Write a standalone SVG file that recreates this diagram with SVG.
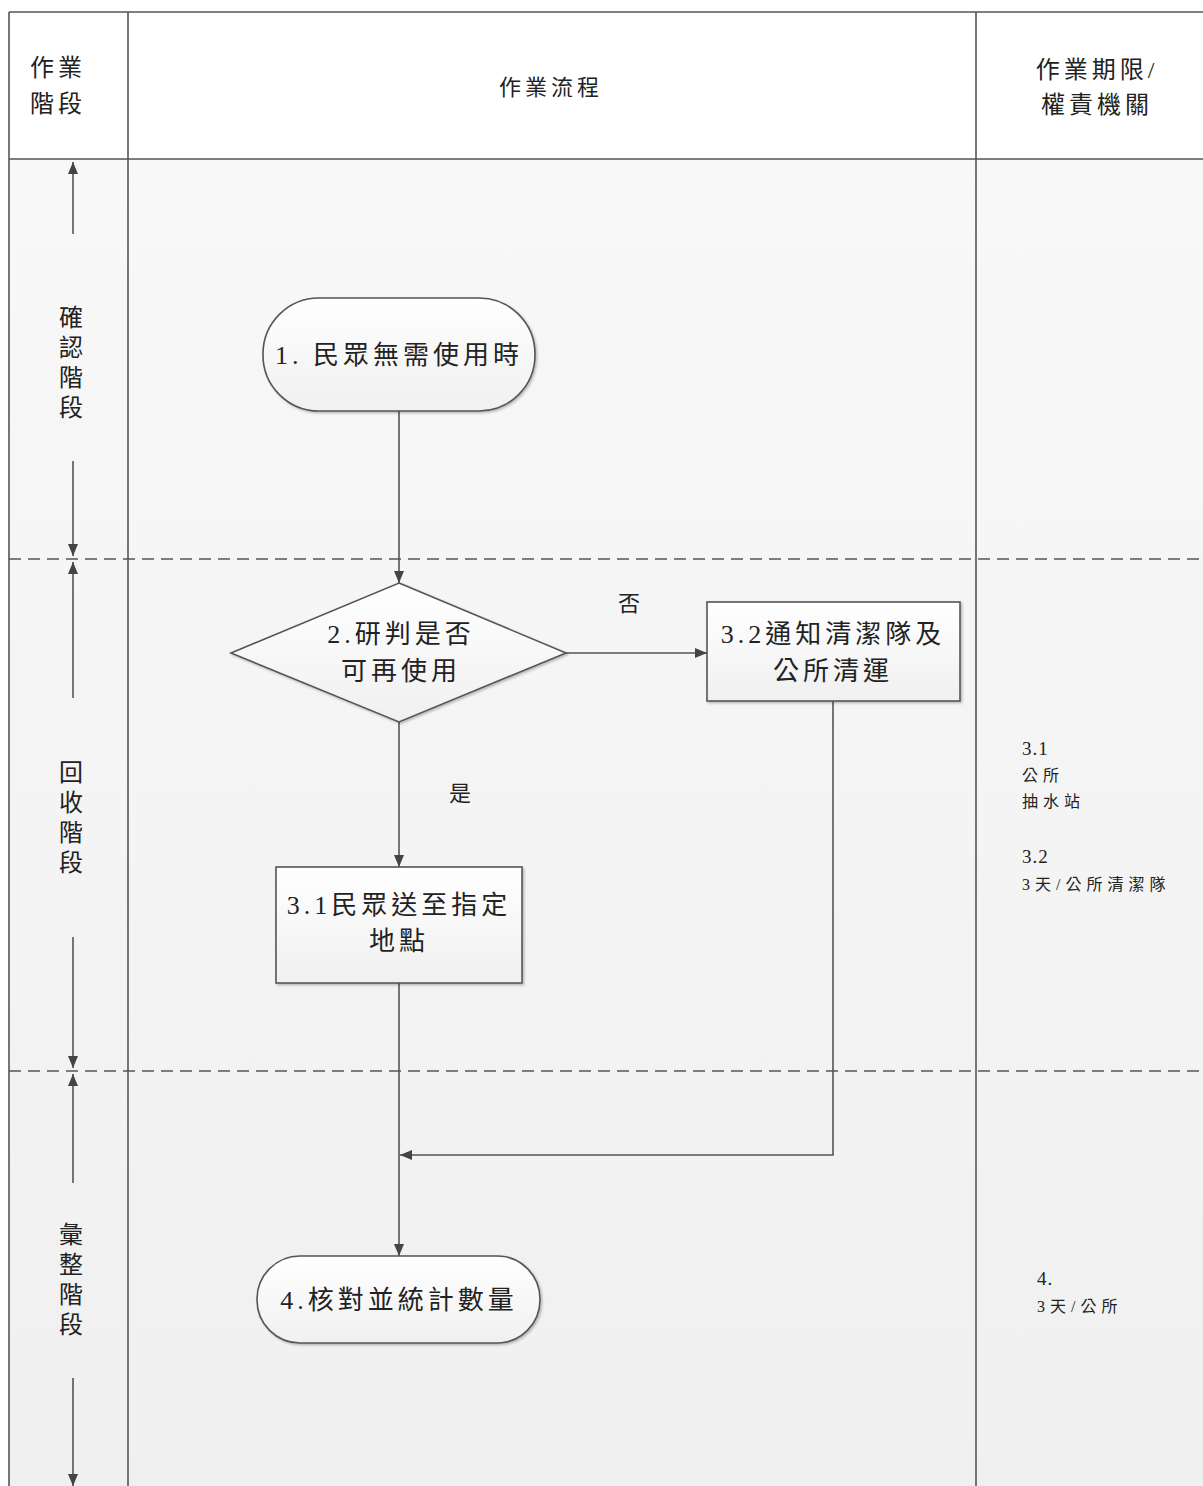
<svg xmlns="http://www.w3.org/2000/svg" width="1203" height="1486" viewBox="0 0 1203 1486">
<style>
.frame{stroke:#555;stroke-width:1.6;fill:none}
.dash{stroke:#555;stroke-width:1.6;stroke-dasharray:12 7;fill:none}
.conn{stroke:#555;stroke-width:1.6;fill:none}
.node{fill:url(#ng);stroke:#555;stroke-width:1.6}
.t{font-family:"Liberation Serif","Noto Sans CJK TC",serif;fill:#222}
.h{font-size:24px;letter-spacing:4px}
.n{font-size:26px;letter-spacing:4px;text-anchor:middle}
.s{font-size:19px;letter-spacing:1px}
.c{font-size:16px;letter-spacing:5px}
</style>
<defs>
<linearGradient id="bg" x1="0" y1="0" x2="0" y2="1">
<stop offset="0" stop-color="#f8f8f8"/><stop offset="1" stop-color="#f0f0f0"/>
</linearGradient>
<linearGradient id="ng" x1="0" y1="0" x2="0" y2="1">
<stop offset="0" stop-color="#ffffff"/><stop offset="1" stop-color="#f0f0f0"/>
</linearGradient>
<marker id="ah" viewBox="0 0 12 10" refX="12" refY="5" markerWidth="12" markerHeight="10" markerUnits="userSpaceOnUse" orient="auto">
<path d="M0,0 L12,5 L0,10 Z" fill="#444"/>
</marker>
<filter id="sh" x="-10%" y="-10%" width="130%" height="130%">
<feDropShadow dx="1.5" dy="1.5" stdDeviation="1.2" flood-color="#000" flood-opacity="0.25"/>
</filter>
</defs>
<rect x="0" y="0" width="1203" height="1486" fill="#ffffff"/>
<rect x="9" y="159" width="1194" height="1327" fill="url(#bg)"/>
<g id="frame">
<line class="frame" x1="9" y1="12" x2="1203" y2="12"/>
<line class="frame" x1="9" y1="12" x2="9" y2="1486"/>
<line class="frame" x1="128" y1="12" x2="128" y2="1486"/>
<line class="frame" x1="976" y1="12" x2="976" y2="1486"/>
<line class="frame" x1="9" y1="159" x2="1203" y2="159"/>
<line class="dash" x1="9" y1="559" x2="1203" y2="559"/>
<line class="dash" x1="9" y1="1071" x2="1203" y2="1071"/>
</g>
<g id="headers">
<text class="t h" x="58" y="76" text-anchor="middle">作業</text>
<text class="t h" x="58" y="112" text-anchor="middle">階段</text>
<text class="t" x="551" y="95" font-size="22" letter-spacing="4" text-anchor="middle">作業流程</text>
<text class="t h" x="1097" y="78" text-anchor="middle">作業期限/</text>
<text class="t h" x="1097" y="113" text-anchor="middle">權責機關</text>
</g>
<g id="stages">
<line class="conn" x1="73" y1="234" x2="73" y2="162" marker-end="url(#ah)"/>
<line class="conn" x1="73" y1="461" x2="73" y2="556" marker-end="url(#ah)"/>
<text class="t" x="71" font-size="24" text-anchor="middle"><tspan x="71" y="326">確</tspan><tspan x="71" y="356">認</tspan><tspan x="71" y="386">階</tspan><tspan x="71" y="416">段</tspan></text>
<line class="conn" x1="73" y1="698" x2="73" y2="562" marker-end="url(#ah)"/>
<line class="conn" x1="73" y1="937" x2="73" y2="1068" marker-end="url(#ah)"/>
<text class="t" x="71" font-size="24" text-anchor="middle"><tspan x="71" y="781">回</tspan><tspan x="71" y="811">收</tspan><tspan x="71" y="841">階</tspan><tspan x="71" y="871">段</tspan></text>
<line class="conn" x1="73" y1="1183" x2="73" y2="1074" marker-end="url(#ah)"/>
<line class="conn" x1="73" y1="1378" x2="73" y2="1486" marker-end="url(#ah)"/>
<text class="t" x="71" font-size="24" text-anchor="middle"><tspan x="71" y="1243">彙</tspan><tspan x="71" y="1273">整</tspan><tspan x="71" y="1303">階</tspan><tspan x="71" y="1333">段</tspan></text>
</g>
<g id="connectors">
<line class="conn" x1="399" y1="411" x2="399" y2="583" marker-end="url(#ah)"/>
<line class="conn" x1="566" y1="653" x2="707" y2="653" marker-end="url(#ah)"/>
<line class="conn" x1="399" y1="722" x2="399" y2="867" marker-end="url(#ah)"/>
<line class="conn" x1="399" y1="983" x2="399" y2="1256" marker-end="url(#ah)"/>
<polyline class="conn" points="833,701 833,1155 400,1155" marker-end="url(#ah)"/>
<text class="t" x="629" y="611" font-size="22" text-anchor="middle">否</text>
<text class="t" x="460" y="801" font-size="22" text-anchor="middle">是</text>
</g>
<g id="n1">
<rect class="node" x="263" y="298" width="272" height="113" rx="56" filter="url(#sh)"/>
<text class="t n" x="399" y="364">1. 民眾無需使用時</text>
</g>
<g id="n2">
<polygon class="node" points="399,583 566,653 399,722 231,653" filter="url(#sh)"/>
<text class="t n" x="401" y="643">2.研判是否</text>
<text class="t n" x="401" y="680">可再使用</text>
</g>
<g id="n32">
<rect class="node" x="707" y="602" width="253" height="99" filter="url(#sh)"/>
<text class="t n" x="833" y="643">3.2通知清潔隊及</text>
<text class="t n" x="833" y="680">公所清運</text>
</g>
<g id="n31">
<rect class="node" x="276" y="867" width="246" height="116" filter="url(#sh)"/>
<text class="t n" x="399" y="914">3.1民眾送至指定</text>
<text class="t n" x="399" y="950">地點</text>
</g>
<g id="n4">
<rect class="node" x="257" y="1256" width="283" height="87" rx="43" filter="url(#sh)"/>
<text class="t n" x="399" y="1309">4.核對並統計數量</text>
</g>
<g id="notes">
<text class="t s" x="1022" y="755">3.1</text>
<text class="t c" x="1022" y="781">公所</text>
<text class="t c" x="1022" y="807">抽水站</text>
<text class="t s" x="1022" y="863">3.2</text>
<text class="t c" x="1022" y="890">3天/公所清潔隊</text>
<text class="t s" x="1037" y="1285">4.</text>
<text class="t c" x="1037" y="1312">3天/公所</text>
</g>
</svg>
